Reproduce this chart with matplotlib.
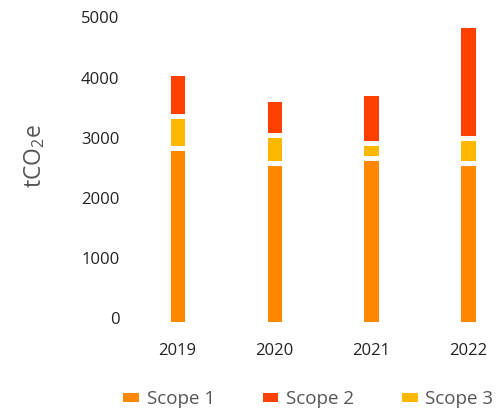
import numpy as np
import matplotlib
matplotlib.use('Agg')
import matplotlib.pyplot as plt

years = ['2019', '2020', '2021', '2022']
scope1 = [2930, 2670, 2760, 2670]
scope3 = [525, 470, 245, 425]
scope2 = [715, 610, 845, 1880]

plt.rcParams['font.family'] = ['Open Sans', 'DejaVu Sans']
plt.rcParams['mathtext.fontset'] = 'custom'
plt.rcParams['mathtext.rm'] = 'Open Sans'

fig = plt.figure(figsize=(5.02, 4.13), dpi=100)
ax = fig.add_axes([0.257, 0.2167, 0.733, 0.7264])

x = np.arange(len(years))
w = 0.2
s1 = np.array(scope1)
s3 = np.array(scope3)
s2 = np.array(scope2)

# stacked: scope 1 at the bottom, scope 3 in the middle, scope 2 on top
ax.bar(x, s1, w, color='#FF8800', edgecolor='white', linewidth=3.6, label='Scope 1')
ax.bar(x, s2, w, bottom=s1 + s3, color='#FF4000', edgecolor='white', linewidth=3.6, label='Scope 2')
ax.bar(x, s3, w, bottom=s1, color='#FFB800', edgecolor='white', linewidth=3.6, label='Scope 3')

ax.set_xlim(-0.5, 3.3)
ax.set_ylim(0, 5000)
ax.set_yticks([0, 1000, 2000, 3000, 4000, 5000])
ax.set_xticks(x)
ax.set_xticklabels(years)
for s in ax.spines.values():
    s.set_visible(False)
ax.tick_params(axis='both', length=0, labelsize=12, labelcolor='#222222')
ax.tick_params(axis='y', pad=7)
ax.tick_params(axis='x', pad=14)
for lab in ax.get_yticklabels():
    lab.set_verticalalignment('baseline')

ax.set_ylabel(r'tCO$_\mathregular{2}$e', fontsize=16.5, color='#555555', labelpad=24, y=0.56)

fig.legend(loc='center', bbox_to_anchor=(0.611, 0.034), ncol=3, frameon=False,
           fontsize=13.5, labelcolor='#555555', handlelength=1.1, handleheight=0.78,
           handletextpad=0.3, columnspacing=2.4)

fig.savefig('out.png', dpi=100)
